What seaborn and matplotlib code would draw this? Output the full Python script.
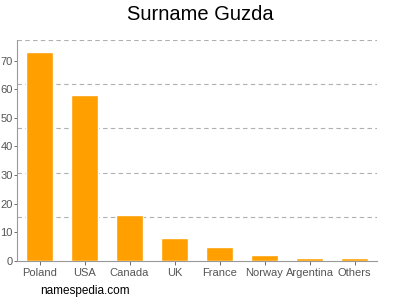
import matplotlib
matplotlib.use("Agg")
import matplotlib.pyplot as plt
import seaborn as sns
import pandas as pd
import numpy as np

categories = ["Poland", "USA", "Canada", "UK", "France", "Norway", "Argentina", "Others"]
values = [73, 58, 16, 8, 5, 2, 1, 1]
y_ticks = [0, 10, 20, 30, 40, 50, 60, 70]

sns.set_theme(style="white")
plt.rcParams['font.family'] = ['Liberation Sans', 'DejaVu Sans']

df = pd.DataFrame({"country": categories, "count": values})

fig = plt.figure(figsize=(4, 3), dpi=100)
ax = fig.add_axes([17/400, 1 - 261/300, 360/400, 221/300])

sns.barplot(data=df, x="country", y="count", color="#FFA000", width=0.62, ax=ax,
            saturation=1, zorder=3)

ymax = 77.2
ax.set_ylim(0, ymax)
ax.set_xlim(-0.5, len(categories) - 0.5)
for g in np.linspace(0, ymax, 6)[1:]:
    ax.axhline(g, color="#b0b0b0", linestyle=(0, (4, 3)), linewidth=0.8, zorder=1)

ax.set_yticks(y_ticks)
ax.set_xlabel("")
ax.set_ylabel("")
ax.tick_params(axis="x", colors="#555555", labelsize=8, length=3, width=0.6,
               direction="out", bottom=True, pad=2)
ax.tick_params(axis="y", colors="#555555", labelsize=8, length=2, width=0.6,
               direction="out", left=True, pad=1)
for s in ["top", "right"]:
    ax.spines[s].set_visible(False)
for s in ["left", "bottom"]:
    ax.spines[s].set_color("#999999")
    ax.spines[s].set_linewidth(0.8)

fig.text(0.5, 1 - 15/300, "Surname Guzda", ha="center", va="center", fontsize=14.5, color="#000000")
fig.text(40/400, 1 - 291/300, "namespedia.com", ha="left", va="center", fontsize=8.5, color="#000000")

fig.savefig("out.png", dpi=100)
